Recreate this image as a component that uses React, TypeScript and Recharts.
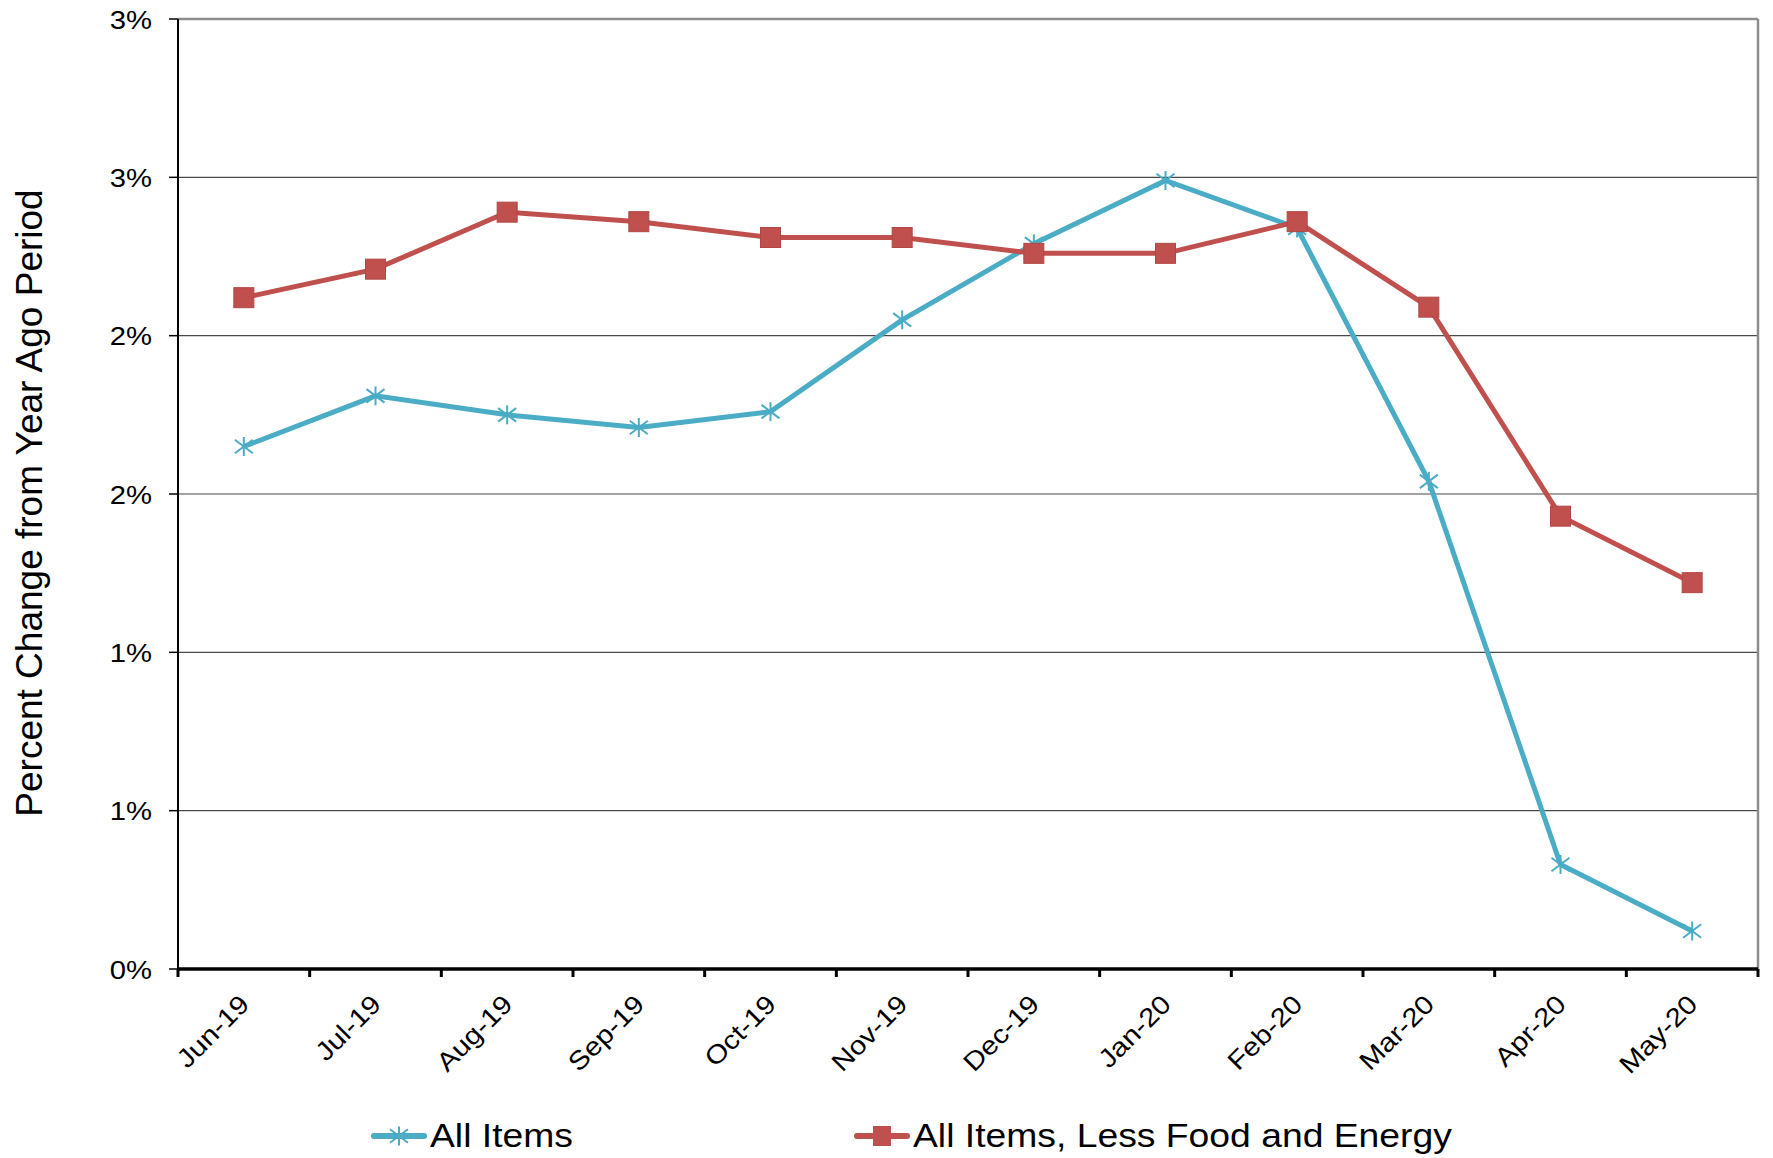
import { LineChart, Line, XAxis, YAxis, CartesianGrid, ReferenceLine, Legend } from 'recharts';

const months = ['Jun-19', 'Jul-19', 'Aug-19', 'Sep-19', 'Oct-19', 'Nov-19', 'Dec-19', 'Jan-20', 'Feb-20', 'Mar-20', 'Apr-20', 'May-20'];
const allItems = [1.65, 1.81, 1.75, 1.71, 1.76, 2.05, 2.29, 2.49, 2.34, 1.54, 0.33, 0.12];
const coreItems = [2.12, 2.21, 2.39, 2.36, 2.31, 2.31, 2.26, 2.26, 2.36, 2.09, 1.43, 1.22];
const yTicks = [0, 0.5, 1, 1.5, 2, 2.5, 3];

const W = 1773;
const H = 1158;
const Y_AXIS_W = 178;
const RIGHT = 15;
const PLOT_W = W - Y_AXIS_W - RIGHT;
const STEP = PLOT_W / months.length;

const BLUE = '#4BACC6';
const RED = '#C0504D';
const FONT = '"Liberation Sans", Arial, sans-serif';
// the source text is a little wider than Arial at the same height
const STRETCH = 1.13;

const data = months.map((m, i) => ({ idx: i, month: m, all: allItems[i], core: coreItems[i] }));

function Asterisk({ cx, cy, size = 9 }: { cx: number; cy: number; size?: number }) {
  const dx = size;
  const dy = size * 0.75;
  return (
    <g stroke={BLUE} strokeWidth={2}>
      <line x1={cx} y1={cy - size - 0.5} x2={cx} y2={cy + size + 0.5} />
      <line x1={cx - dx} y1={cy - dy} x2={cx + dx} y2={cy + dy} />
      <line x1={cx - dx} y1={cy + dy} x2={cx + dx} y2={cy - dy} />
    </g>
  );
}

function StarDot(props: any) {
  const { cx, cy, index } = props;
  if (cx == null || cy == null) return <g key={`s${index}`} />;
  return <Asterisk key={`s${index}`} cx={cx} cy={cy} />;
}

function SquareDot(props: any) {
  const { cx, cy, index } = props;
  if (cx == null || cy == null) return <g key={`q${index}`} />;
  return <rect key={`q${index}`} x={cx - 10} y={cy - 10} width={20} height={20} fill={RED} stroke="#b04744" strokeWidth={1} />;
}

function MonthTick(props: any) {
  const { x, y, payload, index } = props;
  const ax = x + 7;
  const ay = y + 37;
  return (
    <g>
      <line x1={x - STEP / 2} y1={y} x2={x - STEP / 2} y2={y + 8} stroke="#000" strokeWidth={3} />
      {index === months.length - 1 && (
        <line x1={x + STEP / 2} y1={y} x2={x + STEP / 2} y2={y + 8} stroke="#000" strokeWidth={3} />
      )}
      <text
        x={0}
        y={0}
        textAnchor="end"
        transform={`translate(${ax} ${ay}) rotate(-45) scale(${STRETCH} 1)`}
        fontFamily={FONT}
        fontSize={26}
        fill="#000"
      >
        {months[payload.value]}
      </text>
    </g>
  );
}

function PercentTick(props: any) {
  const { x, y, payload } = props;
  return (
    <text
      x={0}
      y={0}
      textAnchor="end"
      dominantBaseline="central"
      transform={`translate(${x} ${y + 1}) scale(1.17 1)`}
      fontFamily={FONT}
      fontSize={25}
      fill="#000"
    >
      {`${Math.round(payload.value)}%`}
    </text>
  );
}

function YTitle(props: any) {
  const { viewBox } = props;
  const x = 42;
  const y = viewBox.y + viewBox.height / 2 + 9;
  return (
    <text x={x} y={y} textAnchor="middle" transform={`rotate(-90 ${x} ${y})`} fontFamily={FONT} fontSize={37} fill="#000">
      Percent Change from Year Ago Period
    </text>
  );
}

function LegendContent() {
  const item = (left: number, color: string, marker: 'star' | 'square', label: string) => (
    <div style={{ position: 'absolute', left, top: 0, height: 44, display: 'flex', alignItems: 'center' }}>
      <svg width={56} height={44}>
        <line x1={3} y1={22} x2={53} y2={22} stroke={color} strokeWidth={6} strokeLinecap="round" />
        {marker === 'star' ? (
          <Asterisk cx={28} cy={22} size={9} />
        ) : (
          <rect x={19} y={12} width={18} height={20} fill={RED} />
        )}
      </svg>
      <span
        style={{
          fontFamily: FONT,
          fontSize: 33,
          color: '#000',
          marginLeft: 3,
          whiteSpace: 'nowrap',
          display: 'inline-block',
          transform: `scaleX(${STRETCH})`,
          transformOrigin: 'left center',
        }}
      >
        {label}
      </span>
    </div>
  );
  return (
    <div style={{ position: 'relative', width: W, height: 44 }}>
      {item(371, BLUE, 'star', 'All Items')}
      {item(854, RED, 'square', 'All Items, Less Food and Energy')}
    </div>
  );
}

export default function App() {
  return (
    <div style={{ width: W, height: H, background: '#fff' }}>
      <style>{`body { margin: 0; }`}</style>
      <LineChart width={W} height={H} data={data} margin={{ top: 19, right: RIGHT, bottom: 0, left: 0 }}>
        <CartesianGrid vertical={false} stroke="#4a4a4a" strokeWidth={1.2} />
        <XAxis
          dataKey="idx"
          type="number"
          domain={[-0.5, months.length - 0.5]}
          ticks={months.map((_, i) => i)}
          interval={0}
          height={145}
          tickLine={false}
          tickSize={0}
          tickMargin={0}
          axisLine={{ stroke: '#000', strokeWidth: 3.5 }}
          tick={<MonthTick />}
        />
        <YAxis
          type="number"
          domain={[0, 3]}
          ticks={yTicks}
          width={Y_AXIS_W}
          tickSize={9}
          tickMargin={17}
          interval={0}
          axisLine={{ stroke: '#000', strokeWidth: 2 }}
          tickLine={{ stroke: '#000', strokeWidth: 1.5 }}
          tick={<PercentTick />}
          label={{ content: <YTitle /> }}
        />
        <ReferenceLine y={3} stroke="#8c8c8c" strokeWidth={2.5} />
        <ReferenceLine x={months.length - 0.5} stroke="#8c8c8c" strokeWidth={2.5} />
        <Legend verticalAlign="bottom" height={44} content={<LegendContent />} />
        <Line
          dataKey="all"
          name="All Items"
          stroke={BLUE}
          strokeWidth={5}
          dot={<StarDot />}
          activeDot={false}
          isAnimationActive={false}
        />
        <Line
          dataKey="core"
          name="All Items, Less Food and Energy"
          stroke={RED}
          strokeWidth={5}
          dot={<SquareDot />}
          activeDot={false}
          isAnimationActive={false}
        />
      </LineChart>
    </div>
  );
}
